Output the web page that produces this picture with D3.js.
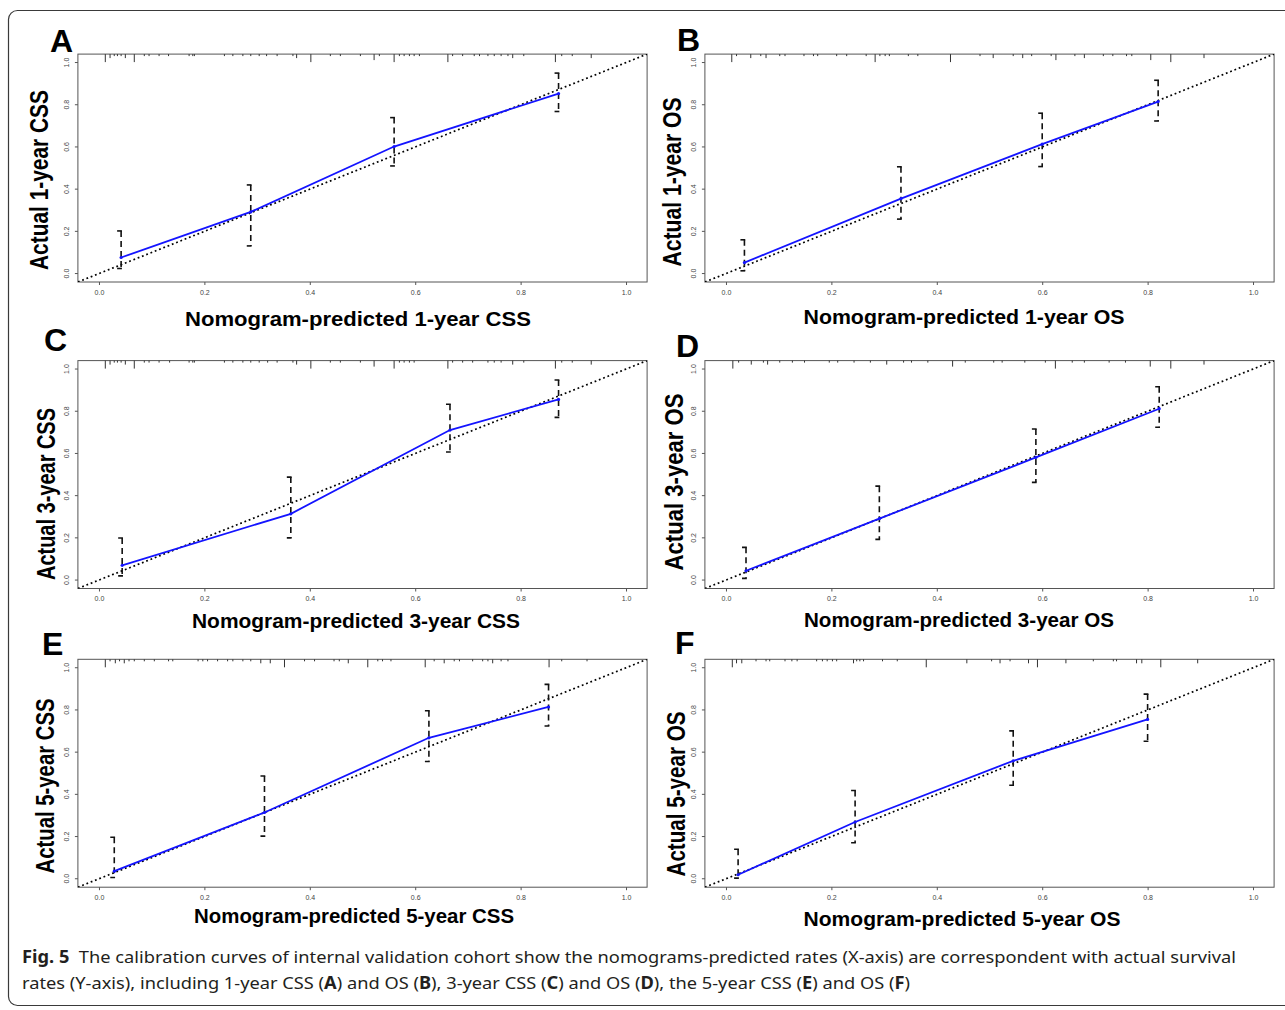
<!DOCTYPE html>
<html>
<head>
<meta charset="utf-8">
<script src="https://cdn.jsdelivr.net/npm/d3@7"></script>
<style>
  body { margin: 0; background: #fff; }
  svg { display: block; }
</style>
</head>
<body>
<div id="chart"></div>
<script>
// calibration points per panel: predicted, observed, CI low, CI high
const predA = [0.042, 0.288, 0.560, 0.872]
const obsA = [0.076, 0.292, 0.602, 0.853]
const loA = [0.024, 0.131, 0.510, 0.768]
const hiA = [0.202, 0.420, 0.739, 0.950]

const predB = [0.035, 0.332, 0.600, 0.820]
const obsB = [0.052, 0.355, 0.613, 0.815]
const loB = [0.013, 0.258, 0.507, 0.723]
const hiB = [0.160, 0.506, 0.760, 0.916]

const predC = [0.044, 0.364, 0.666, 0.872]
const obsC = [0.070, 0.314, 0.711, 0.856]
const loC = [0.020, 0.200, 0.607, 0.771]
const hiC = [0.199, 0.488, 0.833, 0.948]

const predD = [0.038, 0.291, 0.588, 0.822]
const obsD = [0.044, 0.291, 0.581, 0.812]
const loD = [0.008, 0.193, 0.463, 0.724]
const hiD = [0.155, 0.445, 0.716, 0.916]

const predE = [0.029, 0.314, 0.626, 0.853]
const obsE = [0.036, 0.314, 0.668, 0.814]
const loE = [0.006, 0.202, 0.556, 0.724]
const hiE = [0.197, 0.487, 0.796, 0.921]

const predF = [0.023, 0.245, 0.545, 0.800]
const obsF = [0.019, 0.269, 0.559, 0.755]
const loF = [0.003, 0.171, 0.443, 0.652]
const hiF = [0.140, 0.418, 0.701, 0.875]

// rug of predicted values along the top: [value, frequency]
const rugA = [[0.012,4],[0.021,2],[0.029,1],[0.035,1],[0.042,1],[0.050,2],[0.067,4],[0.086,1],[0.095,1],[0.114,1],[0.132,1],[0.171,1],[0.178,1],[0.181,1],[0.238,1],[0.254,1],[0.273,1],[0.288,1],[0.304,1],[0.318,1],[0.338,1],[0.368,1],[0.375,2],[0.402,4],[0.439,1],[0.458,1],[0.496,1],[0.522,3],[0.532,1],[0.560,4],[0.570,1],[0.579,1],[0.589,1],[0.598,1],[0.608,1],[0.662,4],[0.671,1],[0.690,1],[0.712,1],[0.722,1],[0.738,1],[0.750,1],[0.763,1],[0.776,1],[0.785,2],[0.806,1],[0.866,4],[0.878,1],[0.898,1],[0.934,2]]
const rugB = [[0.011,4],[0.020,1],[0.047,2],[0.066,1],[0.076,2],[0.102,1],[0.112,1],[0.148,1],[0.166,1],[0.174,1],[0.210,1],[0.229,1],[0.266,1],[0.283,4],[0.292,1],[0.302,1],[0.310,1],[0.346,1],[0.364,1],[0.426,4],[0.482,1],[0.507,2],[0.545,1],[0.563,2],[0.580,1],[0.617,1],[0.626,3],[0.662,1],[0.680,2],[0.716,1],[0.734,1],[0.760,1],[0.770,1],[0.806,3],[0.844,4],[0.907,2]]
const rugC = [[0.012,4],[0.021,2],[0.029,1],[0.035,1],[0.042,1],[0.050,2],[0.067,4],[0.086,1],[0.095,1],[0.114,1],[0.134,1],[0.171,1],[0.178,1],[0.181,1],[0.238,1],[0.254,1],[0.273,1],[0.288,1],[0.304,1],[0.320,1],[0.338,1],[0.368,1],[0.375,2],[0.402,4],[0.439,1],[0.458,1],[0.496,1],[0.522,3],[0.560,4],[0.570,1],[0.579,1],[0.589,1],[0.598,1],[0.662,4],[0.671,1],[0.690,1],[0.709,1],[0.738,1],[0.750,1],[0.763,1],[0.785,2],[0.806,1],[0.866,4],[0.878,1],[0.898,1],[0.934,2]]
const rugD = [[0.013,4],[0.024,1],[0.048,2],[0.071,1],[0.079,2],[0.102,1],[0.126,1],[0.149,1],[0.196,1],[0.212,1],[0.243,1],[0.274,1],[0.305,2],[0.337,1],[0.352,1],[0.383,1],[0.430,3],[0.454,1],[0.508,1],[0.524,1],[0.567,1],[0.606,1],[0.625,4],[0.657,1],[0.680,1],[0.727,1],[0.758,1],[0.805,3],[0.844,4],[0.907,2]]
const rugE = [[0.012,4],[0.021,1],[0.031,2],[0.039,1],[0.048,2],[0.057,1],[0.067,1],[0.086,1],[0.105,1],[0.132,1],[0.140,1],[0.188,1],[0.197,1],[0.206,1],[0.225,1],[0.244,1],[0.254,1],[0.273,1],[0.288,1],[0.307,2],[0.325,2],[0.352,4],[0.390,1],[0.409,1],[0.446,1],[0.456,1],[0.473,2],[0.510,4],[0.529,1],[0.538,1],[0.554,1],[0.619,4],[0.636,1],[0.655,2],[0.674,1],[0.684,1],[0.709,1],[0.728,1],[0.738,1],[0.747,2],[0.763,1],[0.776,1],[0.854,4],[0.878,1],[0.926,1]]
const rugF = [[0.012,4],[0.020,2],[0.030,2],[0.057,1],[0.076,1],[0.083,1],[0.112,1],[0.125,1],[0.135,1],[0.172,1],[0.183,1],[0.192,1],[0.202,1],[0.210,1],[0.242,2],[0.248,1],[0.254,1],[0.261,1],[0.297,1],[0.325,1],[0.380,4],[0.457,2],[0.504,1],[0.520,2],[0.539,1],[0.574,2],[0.591,4],[0.645,2],[0.697,1],[0.735,1],[0.741,1],[0.779,2],[0.789,2],[0.825,4],[0.895,2]]

const tickValues = [0, 0.2, 0.4, 0.6, 0.8, 1.0]
const domain = [-0.04, 1.04]

const captionLine1 = [['Fig. 5', 1], ['  The calibration curves of internal validation cohort show the nomograms-predicted rates (X-axis) are correspondent with actual survival', 0]]
const captionLine2 = [['rates (Y-axis), including 1-year CSS (', 0], ['A', 1], [') and OS (', 0], ['B', 1], ['), 3-year CSS (', 0], ['C', 1], [') and OS (', 0], ['D', 1], ['), the 5-year CSS (', 0], ['E', 1], [') and OS (', 0], ['F', 1], [')', 0]]

// layout of the six panels
const colLeft = [77.9, 704.9]
const rowTop = [54.1, 360.6, 659.3]
const boxW = 569.2
const boxH = 227.9

const panels = [
  { letter: 'A', col: 0, row: 0, pred: predA, obs: obsA, lo: loA, hi: hiA, rug: rugA,
    xt: 'Nomogram-predicted 1-year CSS', yt: 'Actual 1-year CSS',
    letterPos: [50, 51.5], xtPos: [358, 326, 346], ytPos: [48, 180, 180] },
  { letter: 'B', col: 1, row: 0, pred: predB, obs: obsB, lo: loB, hi: hiB, rug: rugB,
    xt: 'Nomogram-predicted 1-year OS', yt: 'Actual 1-year OS',
    letterPos: [677, 50.5], xtPos: [964, 324, 321], ytPos: [681, 182, 169] },
  { letter: 'C', col: 0, row: 1, pred: predC, obs: obsC, lo: loC, hi: hiC, rug: rugC,
    xt: 'Nomogram-predicted 3-year CSS', yt: 'Actual 3-year CSS',
    letterPos: [44, 351], xtPos: [356, 627.5, 328], ytPos: [55, 494, 172] },
  { letter: 'D', col: 1, row: 1, pred: predD, obs: obsD, lo: loD, hi: hiD, rug: rugD,
    xt: 'Nomogram-predicted 3-year OS', yt: 'Actual 3-year OS',
    letterPos: [676, 357], xtPos: [959, 627.3, 310], ytPos: [683, 482, 177] },
  { letter: 'E', col: 0, row: 2, pred: predE, obs: obsE, lo: loE, hi: hiE, rug: rugE,
    xt: 'Nomogram-predicted 5-year CSS', yt: 'Actual 5-year CSS',
    letterPos: [42, 655], xtPos: [354, 923, 320], ytPos: [54, 786, 175] },
  { letter: 'F', col: 1, row: 2, pred: predF, obs: obsF, lo: loF, hi: hiF, rug: rugF,
    xt: 'Nomogram-predicted 5-year OS', yt: 'Actual 5-year OS',
    letterPos: [675, 654], xtPos: [962, 925.5, 317], ytPos: [685, 794, 165] }
]

const svg = d3.select('#chart').append('svg')
  .attr('width', 1285)
  .attr('height', 1010)
  .style('font-family', '"Liberation Sans", Arial, sans-serif')

// outer frame
svg.append('rect')
  .attr('x', 8.5).attr('y', 10.5)
  .attr('width', 1290).attr('height', 995)
  .attr('rx', 9)
  .attr('fill', 'none')
  .attr('stroke', '#3a3a3a')
  .attr('stroke-width', 1.2)

const defs = svg.append('defs')

panels.forEach((p, i) => {
  const left = colLeft[p.col]
  const top = rowTop[p.row]
  const x = d3.scaleLinear().domain(domain).range([left, left + boxW])
  const y = d3.scaleLinear().domain(domain).range([top + boxH, top])
  const g = svg.append('g')

  defs.append('clipPath').attr('id', 'clip' + i)
    .append('rect')
    .attr('x', left).attr('y', top)
    .attr('width', boxW).attr('height', boxH)

  // axes
  const xAxis = d3.axisBottom(x).tickValues(tickValues).tickFormat(d3.format('.1f')).tickSize(3).tickPadding(5)
  const yAxis = d3.axisLeft(y).tickValues(tickValues).tickFormat(d3.format('.1f')).tickSize(3).tickPadding(5)

  const gx = g.append('g')
    .attr('transform', `translate(0,${top + boxH})`)
    .call(xAxis)
  gx.select('.domain').remove()
  gx.selectAll('line').attr('stroke', '#555')
  gx.selectAll('text')
    .attr('font-size', 7)
    .attr('fill', '#444')

  const gy = g.append('g')
    .attr('transform', `translate(${left},0)`)
    .call(yAxis)
  gy.select('.domain').remove()
  gy.selectAll('line').attr('stroke', '#555')
  gy.selectAll('text')
    .attr('font-size', 7)
    .attr('fill', '#444')
    .attr('text-anchor', 'middle')
    .attr('dy', 0)
    .attr('transform', d => `translate(${-11},${y(d)}) rotate(-90)`)
    .attr('x', 0)
    .attr('y', 0)
    .attr('dominant-baseline', 'middle')
  gy.selectAll('.tick').attr('transform', null)
  gy.selectAll('.tick line').attr('transform', d => `translate(0,${y(d)})`)

  // box
  g.append('rect')
    .attr('x', left).attr('y', top)
    .attr('width', boxW).attr('height', boxH)
    .attr('fill', 'none')
    .attr('stroke', '#555')
    .attr('stroke-width', 1)

  // rug along the top
  g.append('g').selectAll('line')
    .data(p.rug)
    .enter()
    .append('line')
    .attr('x1', d => x(d[0]))
    .attr('x2', d => x(d[0]))
    .attr('y1', top)
    .attr('y2', d => top + 2 * d[1])
    .attr('stroke', '#333')
    .attr('stroke-width', 1)

  const plot = g.append('g').attr('clip-path', `url(#clip${i})`)

  // ideal line
  plot.append('line')
    .attr('x1', x(domain[0])).attr('y1', y(domain[0]))
    .attr('x2', x(domain[1])).attr('y2', y(domain[1]))
    .attr('stroke', '#000')
    .attr('stroke-width', 1.7)
    .attr('stroke-dasharray', '1.8,2.8')

  const pts = p.pred.map((v, k) => ({ x: v, y: p.obs[k], lo: p.lo[k], hi: p.hi[k] }))

  // error bars
  const bars = plot.append('g').selectAll('g')
    .data(pts)
    .enter()
    .append('g')
  bars.append('line')
    .attr('x1', d => x(d.x)).attr('x2', d => x(d.x))
    .attr('y1', d => y(d.hi)).attr('y2', d => y(d.lo))
    .attr('stroke', '#111')
    .attr('stroke-width', 1.6)
    .attr('stroke-dasharray', '6,4')
  bars.append('line')
    .attr('x1', d => x(d.x) - 4).attr('x2', d => x(d.x) + 0.8)
    .attr('y1', d => y(d.hi)).attr('y2', d => y(d.hi))
    .attr('stroke', '#111')
    .attr('stroke-width', 1.6)
  bars.append('line')
    .attr('x1', d => x(d.x) - 4).attr('x2', d => x(d.x) + 0.8)
    .attr('y1', d => y(d.lo)).attr('y2', d => y(d.lo))
    .attr('stroke', '#111')
    .attr('stroke-width', 1.6)

  // calibration curve
  plot.append('path')
    .datum(pts)
    .attr('d', d3.line().x(d => x(d.x)).y(d => y(d.y)))
    .attr('fill', 'none')
    .attr('stroke', '#1414ff')
    .attr('stroke-width', 1.8)
  plot.append('g').selectAll('circle')
    .data(pts)
    .enter()
    .append('circle')
    .attr('cx', d => x(d.x)).attr('cy', d => y(d.y))
    .attr('r', 1.6)
    .attr('fill', '#1414ff')

  // titles
  svg.append('text')
    .attr('x', p.letterPos[0]).attr('y', p.letterPos[1])
    .attr('font-size', 32)
    .attr('font-weight', 'bold')
    .attr('fill', '#000')
    .text(p.letter)

  svg.append('text')
    .attr('x', p.xtPos[0]).attr('y', p.xtPos[1])
    .attr('text-anchor', 'middle')
    .attr('font-size', 21)
    .attr('font-weight', 'bold')
    .attr('fill', '#000')
    .attr('textLength', p.xtPos[2])
    .attr('lengthAdjust', 'spacingAndGlyphs')
    .text(p.xt)

  svg.append('text')
    .attr('transform', `translate(${p.ytPos[0]},${p.ytPos[1]}) rotate(-90)`)
    .attr('text-anchor', 'middle')
    .attr('font-size', 25)
    .attr('font-weight', 'bold')
    .attr('fill', '#000')
    .attr('textLength', p.ytPos[2])
    .attr('lengthAdjust', 'spacingAndGlyphs')
    .text(p.yt)
})

// caption
const captionLines = [
  { parts: captionLine1, y: 963, len: 1214 },
  { parts: captionLine2, y: 989, len: 888 }
]
captionLines.forEach(c => {
  const t = svg.append('text')
    .attr('x', 22).attr('y', c.y)
    .attr('font-family', '"Noto Sans", "Open Sans", sans-serif')
    .attr('font-size', 17)
    .attr('fill', '#231f20')
    .attr('xml:space', 'preserve')
    .attr('textLength', c.len)
    .attr('lengthAdjust', 'spacingAndGlyphs')
  t.selectAll('tspan')
    .data(c.parts)
    .enter()
    .append('tspan')
    .attr('font-weight', d => d[1] ? 'bold' : null)
    .text(d => d[0])
})
</script>
</body>
</html>
